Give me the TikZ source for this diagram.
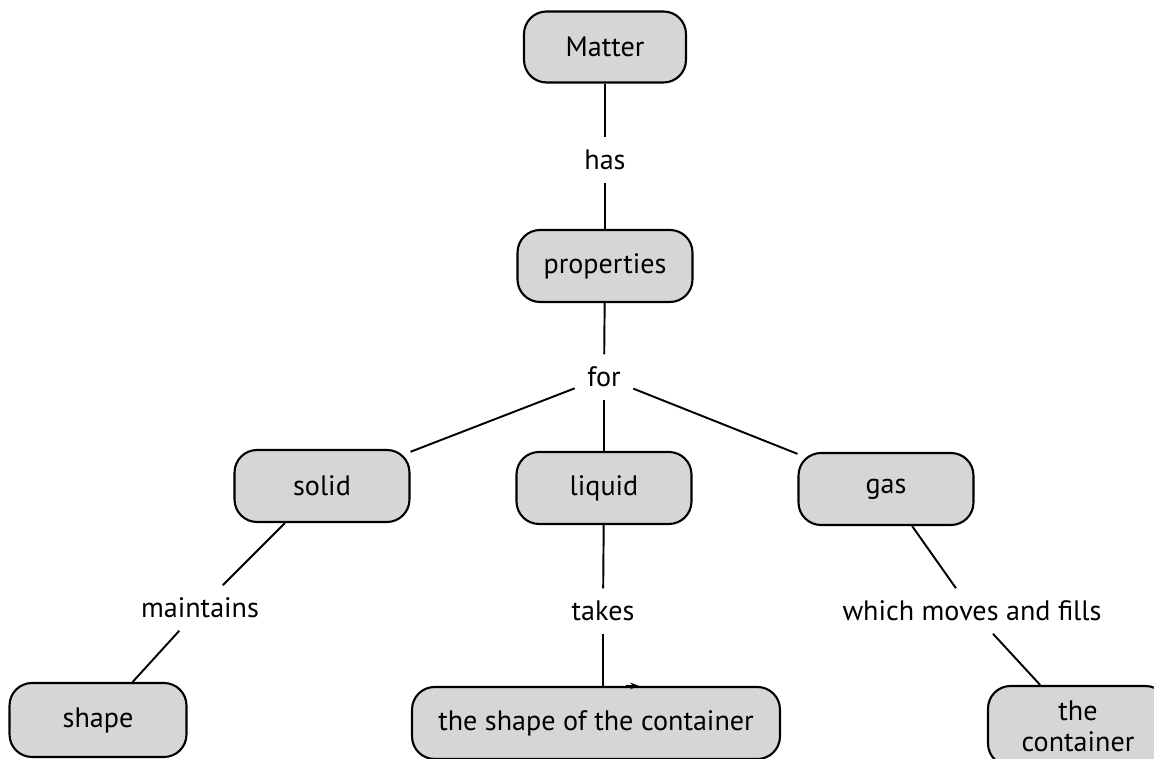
\documentclass[tikz,border=0pt]{standalone}
\usepackage{fontspec}
\setmainfont{PT Sans}
\usepackage{tikz}
\usetikzlibrary{arrows.meta,positioning}
\definecolor{cfill}{HTML}{D6D6D6}

\begin{document}
\begin{tikzpicture}[
    x=0.02cm, y=-0.02cm,
    concept/.style={draw, line width=1.2pt, fill=cfill, rounded corners=0.45cm,
        minimum width=3.5cm, minimum height=1.44cm, font=\fontsize{16pt}{19pt}\selectfont},
    link/.style={font=\fontsize{16pt}{19pt}\selectfont, inner sep=7pt},
    edge/.style={line width=1.1pt},
]
\useasboundingbox (0,0) rectangle (1154,759);
\clip (0,0) rectangle (1154,759);

% top of the map
\node[concept, minimum width=3.24cm, minimum height=1.42cm] (matter) at (605,47) {Matter};
\node[link] (has) at (605,160) {has};
\node[concept] (props) at (605,266) {properties};
\node[link] (for) at (604,377) {for};

% the three states
\node[concept] (solid)  at (322,486) {solid};
\node[concept] (liquid) at (604,488) {liquid};
\node[concept] (gas)    at (886,489) {gas};

% linking phrases
\node[link] (maint) at (200,608) {maintains};
\node[link] (takes) at (603,611) {takes};
\node[link] (moves) at (972,611) {which moves and fills};

% bottom row (cut by the page edge)
\node[concept, minimum width=3.54cm, minimum height=1.48cm] (shape) at (98,720) {shape};
\node[concept, minimum width=7.36cm] (cont) at (596,723) {the shape of the container};
\node[concept, minimum width=3.6cm, minimum height=1.6cm, align=center, inner sep=2pt,
    font=\fontsize{16pt}{17.5pt}\selectfont] (thecont) at (1078,726) {the\\container};

% connectors
\draw[edge] (matter) -- (has);
\draw[edge] (has) -- (props);
\draw[edge] (props) -- (for);
\draw[edge] (for) -- (solid);
\draw[edge] (for) -- (liquid);
\draw[edge] (for) -- (gas);
\draw[edge] (solid) -- (maint);
\draw[edge] (maint) -- (shape);
\draw[edge] (liquid) -- (takes);
\draw[edge] (takes.south) -- (takes.south |- cont.north);
\draw[edge] (gas) -- (moves);
\draw[edge] (moves) -- (thecont);

% small tip on the box edge
\draw[line width=0.8pt, -{Stealth[length=5pt]}] ([xshift=0.6cm]cont.north) -- ([xshift=0.86cm]cont.north);

\end{tikzpicture}
\end{document}
